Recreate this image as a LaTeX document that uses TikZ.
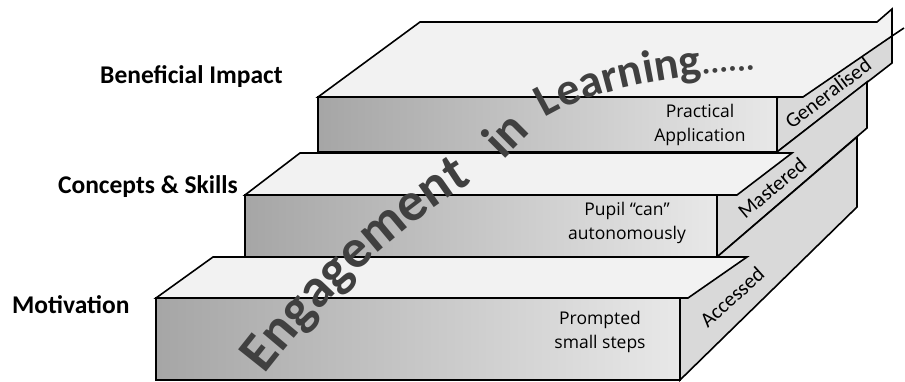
\documentclass[tikz,border=0pt]{standalone}
\usepackage{fontspec}
\setmainfont{Carlito}
\newfontfamily\handfont{Open Sans}
\usetikzlibrary{decorations.text}
\newcommand\engA{\fontsize{55}{55}\selectfont\bfseries}
\newcommand\engB{\fontsize{51}{51}\selectfont\bfseries}
\newcommand\engC{\fontsize{46}{46}\selectfont\bfseries}
\newcommand\engD{\fontsize{33}{33}\selectfont\bfseries}
\begin{document}
\begin{tikzpicture}[x=1pt,y=-1pt,
  edge/.style={draw=black, line width=1.6pt, line join=miter},
  frontface/.style={edge, left color=black!35, right color=black!9},
  topface/.style={edge, fill=black!5},
  sideface/.style={edge, fill=black!15},
  steplbl/.style={font=\bfseries\fontsize{25.5}{28}\selectfont, inner sep=0pt},
  handlbl/.style={font=\handfont\fontsize{17.5}{24}\selectfont, align=center, inner sep=0pt},
  sidelbl/.style={font=\fontsize{21}{24}\selectfont, inner sep=0pt},
  arctext/.style={decorate, decoration={text along path, text color=black!75, text={#1}}}]
\useasboundingbox (0,0) rectangle (905,381);
% top slab
\path[sideface] (777,98) -- (777,152) -- (892,63) -- (892,36) -- cycle;
\path[frontface] (318,97) rectangle (777,152);
\path[topface] (318,97) -- (803,97) -- (892,36) -- (892,9) -- (877,22) -- (420,22) -- cycle;
\draw[edge] (892,36) -- (904,28);
% middle slab
\path[sideface] (717,195) -- (717,257) -- (867,128) -- (867,82) -- (777,152) -- (717,152) -- cycle;
\path[frontface] (245,195) rectangle (717,257);
\path[topface] (245,195) -- (737,195) -- (792,153) -- (300,153) -- cycle;
% bottom slab
\path[sideface] (680,298) -- (680,380) -- (857,207) -- (857,137) -- (717,257) -- (680,257) -- cycle;
\path[frontface] (156,298) rectangle (680,380);
\path[topface] (156,298) -- (688,298) -- (747,257) -- (213,257) -- cycle;
% left labels
\node[steplbl, anchor=west] (benef) at (100,77) {Beneficial Impact};
\node[steplbl, anchor=east] (conc) at (238,187) {Concepts \& Skills};
\node[steplbl, anchor=west] (motiv) at (12,305) {Motivation};
% front labels
\node[handlbl] (prac) at (700,125) {Practical\\Application};
\node[handlbl] (pupil) at (627,223) {Pupil “can”\\autonomously};
\node[handlbl] (promp) at (600,332) {Prompted\\small steps};
% side labels
\node[sidelbl, rotate=37] (gen) at (828,93) {Generalised};
\node[sidelbl, rotate=40] (mast) at (772,188) {Mastered};
\node[sidelbl, rotate=42] (acc) at (732,297) {Accessed};
% arc text
\path[arctext={|\engA|Engagement}]
  (265,375) .. controls (345,272) and (420,212) .. (505,162);
\path[arctext={|\engB|in}]
  (503,160) -- (545,118);
\path[arctext={|\engC|Learning|\engD|......}]
  (545,118) .. controls (590,90) and (680,72) .. (780,69);
\end{tikzpicture}
\end{document}
